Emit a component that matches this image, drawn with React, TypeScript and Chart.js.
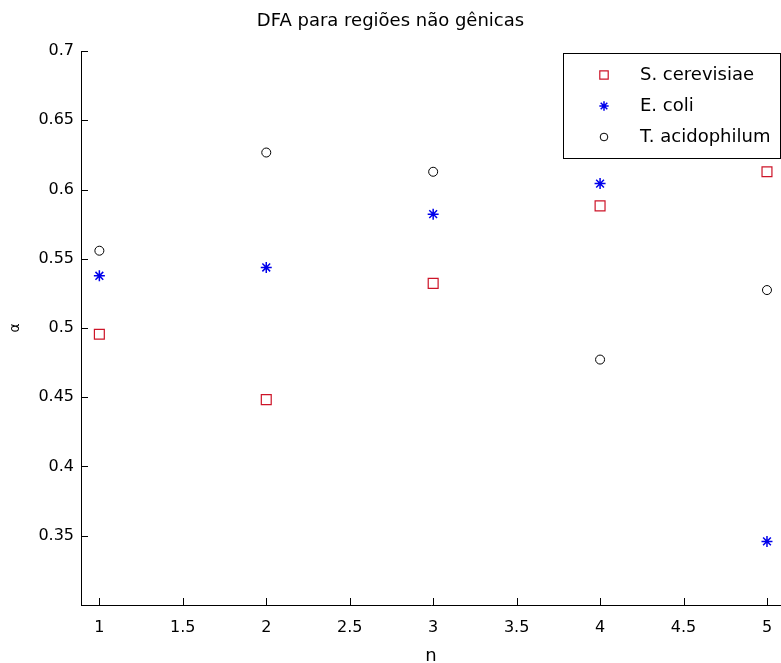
import React, { useEffect, useRef } from 'react';
import { Chart, registerables } from 'chart.js';
import { drawPoint } from 'chart.js/helpers';

Chart.register(...registerables);

const N_VALUES = [1, 2, 3, 4, 5];
const S_CEREVISIAE = [0.4955, 0.4483, 0.5322, 0.5882, 0.6128];
const E_COLI = [0.5377, 0.5437, 0.5822, 0.6043, 0.3459];
const T_ACIDOPHILUM = [0.5558, 0.6267, 0.6128, 0.4772, 0.5274];
const SERIES_NAMES = ['S. cerevisiae', 'E. coli', 'T. acidophilum'];

const X_TICKS = [1, 1.5, 2, 2.5, 3, 3.5, 4, 4.5, 5];
const X_TICK_LABELS = ['1', '1.5', '2', '2.5', '3', '3.5', '4', '4.5', '5'];
const Y_TICKS = [0.35, 0.4, 0.45, 0.5, 0.55, 0.6, 0.65, 0.7];
const Y_TICK_LABELS = ['0.35', '0.4', '0.45', '0.5', '0.55', '0.6', '0.65', '0.7'];

const TITLE = 'DFA para regiões não gênicas';
const X_TITLE = 'n';
const Y_TITLE = 'α';

const FONT = "'DejaVu Sans', sans-serif";

const labelFor = (ticks: number[], labels: string[], v: number) => {
  const i = ticks.findIndex((t) => Math.abs(t - v) < 1e-9);
  return i >= 0 ? labels[i] : '';
};

const innerTicks = {
  id: 'innerTicks',
  afterDraw(chart: any) {
    const { ctx, chartArea } = chart;
    const xs = chart.scales.x;
    const ys = chart.scales.y;
    const len = 7;
    ctx.save();
    ctx.strokeStyle = '#000';
    ctx.lineWidth = 1;
    ctx.beginPath();
    X_TICKS.forEach((v) => {
      const px = Math.round(xs.getPixelForValue(v)) + 0.5;
      ctx.moveTo(px, chartArea.bottom);
      ctx.lineTo(px, chartArea.bottom - len);
    });
    Y_TICKS.forEach((v) => {
      const py = Math.round(ys.getPixelForValue(v)) + 0.5;
      ctx.moveTo(chartArea.left, py);
      ctx.lineTo(chartArea.left + len, py);
    });
    ctx.stroke();
    ctx.restore();
  },
};

const boxLegend = {
  id: 'boxLegend',
  afterDraw(chart: any) {
    const { ctx } = chart;
    const left = 563.5;
    const top = 53.5;
    const width = 217;
    const height = 105;
    ctx.save();
    ctx.fillStyle = '#fff';
    ctx.fillRect(left, top, width, height);
    ctx.strokeStyle = '#000';
    ctx.lineWidth = 1;
    ctx.strokeRect(left, top, width, height);
    chart.data.datasets.forEach((ds: any, i: number) => {
      const y = 75 + i * 31;
      ctx.strokeStyle = ds.borderColor;
      ctx.fillStyle = ds.backgroundColor;
      ctx.lineWidth = ds.borderWidth;
      drawPoint(ctx, { pointStyle: ds.pointStyle, rotation: 0, radius: ds.pointRadius * 0.85, borderWidth: ds.borderWidth }, 604, y);
      ctx.fillStyle = '#000';
      ctx.font = `18px ${FONT}`;
      ctx.textBaseline = 'middle';
      ctx.textAlign = 'left';
      ctx.fillText(ds.label, 640, y);
    });
    ctx.restore();
  },
};

export default function App() {
  const canvasRef = useRef<HTMLCanvasElement | null>(null);

  useEffect(() => {
    if (!canvasRef.current) return;
    const toPts = (ys: number[]) => N_VALUES.map((x, i) => ({ x, y: ys[i] }));
    const chart = new Chart(canvasRef.current, {
      type: 'scatter',
      data: {
        datasets: [
          {
            label: SERIES_NAMES[0],
            data: toPts(S_CEREVISIAE),
            pointStyle: 'rect',
            pointRadius: 7,
            borderColor: 'rgb(205,20,40)',
            backgroundColor: 'rgba(0,0,0,0)',
            borderWidth: 1.2,
          },
          {
            label: SERIES_NAMES[1],
            data: toPts(E_COLI),
            pointStyle: 'star',
            pointRadius: 5.5,
            borderColor: 'rgb(0,0,235)',
            backgroundColor: 'rgba(0,0,0,0)',
            borderWidth: 1.5,
          },
          {
            label: SERIES_NAMES[2],
            data: toPts(T_ACIDOPHILUM),
            pointStyle: 'circle',
            pointRadius: 4.5,
            borderColor: '#000',
            backgroundColor: 'rgba(0,0,0,0)',
            borderWidth: 1,
          },
        ] as any,
      },
      options: {
        responsive: false,
        maintainAspectRatio: false,
        animation: false,
        layout: { padding: 0, autoPadding: false },
        plugins: {
          legend: { display: false },
          tooltip: { enabled: false },
          title: {
            display: true,
            text: TITLE,
            color: '#000',
            font: { family: FONT, size: 18, weight: 'normal' },
            padding: { top: 11, bottom: 18.4 },
          },
        },
        scales: {
          x: {
            type: 'linear',
            min: 0.89,
            max: 5.084,
            afterBuildTicks: (s: any) => {
              s.ticks = X_TICKS.map((v) => ({ value: v }));
            },
            afterFit: (s: any) => {
              s.height = 58;
              s.paddingLeft = 0;
              s.paddingRight = 0;
            },
            ticks: {
              callback: (v: any) => labelFor(X_TICKS, X_TICK_LABELS, Number(v)),
              color: '#000',
              font: { family: FONT, size: 16 },
              padding: 13,
              maxRotation: 0,
              autoSkip: false,
            },
            grid: { display: false, drawTicks: false },
            border: { display: true, color: '#000', width: 1 },
            title: {
              display: true,
              text: X_TITLE,
              color: '#000',
              font: { family: FONT, size: 18 },
              padding: { top: 0, bottom: -4 },
            },
          },
          y: {
            type: 'linear',
            min: 0.3,
            max: 0.7,
            afterBuildTicks: (s: any) => {
              s.ticks = Y_TICKS.map((v) => ({ value: v }));
            },
            afterFit: (s: any) => {
              s.width = 81;
              s.paddingTop = 0;
              s.paddingBottom = 0;
            },
            ticks: {
              callback: (v: any) => labelFor(Y_TICKS, Y_TICK_LABELS, Number(v)),
              color: '#000',
              font: { family: FONT, size: 16 },
              padding: 7,
              autoSkip: false,
            },
            grid: { display: false, drawTicks: false },
            border: { display: true, color: '#000', width: 1 },
            title: {
              display: true,
              text: Y_TITLE,
              color: '#000',
              font: { family: FONT, size: 14 },
              padding: { top: 7, bottom: 0 },
            },
          },
        },
      } as any,
      plugins: [innerTicks, boxLegend],
    });
    return () => chart.destroy();
  }, []);

  return (
    <div style={{ position: 'absolute', left: 0, top: 0, width: 781, height: 663, background: '#fff' }}>
      <canvas ref={canvasRef} width={781} height={663} style={{ display: 'block' }} />
    </div>
  );
}
